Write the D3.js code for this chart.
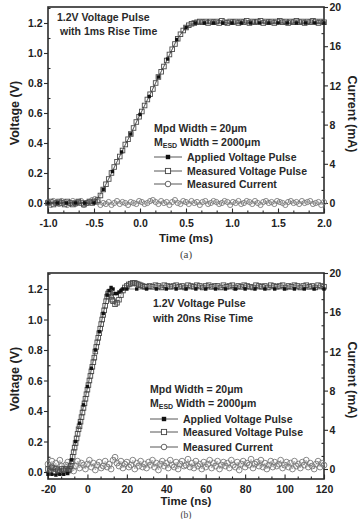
<!DOCTYPE html>
<html><head><meta charset="utf-8">
<script src="https://cdn.jsdelivr.net/npm/d3@7"></script>
<style>html,body{margin:0;padding:0;background:#fff;} svg{display:block;}</style>
</head><body>
<svg id="c" width="363" height="519"></svg>
<script>
// ---------------- Panel (a): 1 ms rise time ----------------
const timeA = [-1.00,-0.97,-0.94,-0.91,-0.88,-0.85,-0.82,-0.79,-0.76,-0.73,
  -0.70,-0.67,-0.64,-0.61,-0.58,-0.55,-0.52,-0.49,-0.46,-0.43,
  -0.40,-0.37,-0.34,-0.31,-0.28,-0.25,-0.22,-0.19,-0.16,-0.13,
  -0.10,-0.07,-0.04,-0.01,0.02,0.05,0.08,0.11,0.14,0.17,
  0.20,0.23,0.26,0.29,0.32,0.35,0.38,0.41,0.44,0.47,
  0.50,0.53,0.56,0.59,0.62,0.65,0.68,0.71,0.74,0.77,
  0.80,0.83,0.86,0.89,0.92,0.95,0.98,1.01,1.04,1.07,
  1.10,1.13,1.16,1.19,1.22,1.25,1.28,1.31,1.34,1.37,
  1.40,1.43,1.46,1.49,1.52,1.55,1.58,1.61,1.64,1.67,
  1.70,1.73,1.76,1.79,1.82,1.85,1.88,1.91,1.94,1.97,
  2.00];
const voltMeasA = [0.00,0.01,-0.01,0.00,0.01,0.00,-0.01,0.01,0.00,-0.01,
  0.00,0.01,0.00,-0.01,0.00,0.01,0.00,0.01,0.02,0.05,
  0.09,0.125,0.16,0.20,0.24,0.275,0.31,0.35,0.39,0.425,
  0.46,0.50,0.54,0.575,0.61,0.65,0.69,0.725,0.76,0.80,
  0.84,0.875,0.91,0.95,0.99,1.025,1.06,1.095,1.125,1.15,
  1.17,1.185,1.195,1.20,1.205,1.21,1.205,1.21,1.20,1.21,
  1.205,1.21,1.20,1.215,1.205,1.20,1.21,1.205,1.21,1.20,
  1.21,1.205,1.215,1.20,1.21,1.205,1.21,1.215,1.20,1.21,
  1.205,1.21,1.20,1.21,1.215,1.205,1.21,1.20,1.21,1.205,
  1.215,1.205,1.21,1.20,1.21,1.205,1.215,1.21,1.20,1.21,
  1.205];
const currA = [0.1,-0.2,0.2,0.0,-0.1,0.2,0.1,-0.2,0.0,0.2,
  -0.1,0.1,0.2,-0.2,0.0,0.1,0.3,0.4,0.1,-0.2,
  0.0,-0.1,0.1,-0.2,0.0,0.2,-0.1,0.1,0.0,-0.2,
  0.1,0.0,-0.1,0.2,0.1,-0.1,0.0,0.2,0.3,0.1,
  -0.1,0.2,0.0,0.1,-0.2,0.1,0.3,0.0,-0.1,0.2,
  0.1,-0.1,0.2,0.0,0.1,-0.2,0.1,0.2,-0.1,0.0,
  0.2,0.1,-0.1,0.0,0.2,0.1,-0.2,0.1,0.0,0.2,
  -0.1,0.0,0.2,0.1,-0.1,0.2,0.0,-0.2,0.1,0.2,
  0.0,0.1,-0.1,0.2,0.1,0.0,-0.2,0.1,0.2,0.0,
  0.1,-0.1,0.2,0.0,0.1,0.2,-0.1,0.0,0.1,-0.2,
  0.1];
const tApplA = [-1.0,-0.9,-0.8,-0.7,-0.6,-0.5,-0.4,-0.3,-0.2,-0.1,0.0,0.1,0.2,0.3,0.4,0.5,0.6,0.7,0.8,0.9,1.0,1.1,1.2,1.3,1.4,1.5,1.6,1.7,1.8,1.9,2.0];
const voltApplA = [0,0,0,0,0,0,0.09,0.21,0.34,0.46,0.59,0.71,0.84,0.96,1.09,1.17,1.2,1.2,1.2,1.2,1.2,1.2,1.2,1.2,1.2,1.2,1.2,1.2,1.2,1.2,1.2];

// ---------------- Panel (b): 20 ns rise time ----------------
const timeB = [-20,-19,-18,-17,-16,-15,-14,-13,-12,-11,-10,
  -9.5,-9,-8.5,-8,-7.5,-7,-6.5,-6,-5.5,-5,
  -4.5,-4,-3.5,-3,-2.5,-2,-1.5,-1,-0.5,0,
  0.5,1,1.5,2,2.5,3,3.5,4,4.5,5,
  5.5,6,6.5,7,7.5,8,8.5,9,9.5,10,
  10.5,11,11.5,12,12.5,13,
  14,15,16,17,18,19,20,21,22,23,24,25,26,27,28,29,30,
  31.5,33,34.5,36,37.5,39,40.5,42,43.5,45,
  46.5,48,49.5,51,52.5,54,55.5,57,58.5,60,
  61.5,63,64.5,66,67.5,69,70.5,72,73.5,75,
  76.5,78,79.5,81,82.5,84,85.5,87,88.5,90,
  91.5,93,94.5,96,97.5,99,100.5,102,103.5,105,
  106.5,108,109.5,111,112.5,114,115.5,117,118.5,120];
const voltMeasB = [0.02,0.01,0.03,0.00,0.02,0.01,0.00,0.02,0.01,0.02,0.01,
  0.01,0.02,0.04,0.07,0.10,0.13,0.16,0.19,0.22,0.25,
  0.28,0.30,0.33,0.36,0.39,0.42,0.45,0.48,0.51,0.54,
  0.57,0.60,0.63,0.66,0.69,0.72,0.75,0.79,0.82,0.85,
  0.88,0.91,0.94,0.97,1.00,1.03,1.06,1.09,1.12,1.15,
  1.17,1.18,1.17,1.15,1.13,1.12,
  1.10,1.11,1.13,1.16,1.19,1.21,1.22,1.23,1.235,1.24,1.24,1.235,1.23,1.225,1.22,1.215,1.215,
  1.22,1.215,1.225,1.22,1.21,1.225,1.22,1.215,1.22,1.225,
  1.215,1.22,1.21,1.225,1.22,1.215,1.225,1.22,1.21,1.22,
  1.225,1.215,1.22,1.22,1.21,1.225,1.215,1.22,1.225,1.21,
  1.22,1.215,1.225,1.22,1.215,1.21,1.225,1.22,1.215,1.22,
  1.21,1.225,1.22,1.215,1.22,1.225,1.21,1.22,1.215,1.225,
  1.22,1.21,1.22,1.225,1.215,1.22,1.21,1.225,1.22,1.215];
const tApplB = [-20,-18,-16,-14,-12,-10,-8,-6,-4,-2,0,2,4,6,8,10,
  11,12,13,14,15,16,17,18,20,25,30,
  35,40,45,50,55,60,65,70,75,80,85,90,95,100,105,110,115,120];
const voltApplB = [-0.015,-0.015,-0.02,-0.015,-0.015,-0.01,0.08,0.20,0.32,0.44,0.56,0.68,0.80,0.92,1.04,1.16,
  1.19,1.21,1.20,1.17,1.17,1.18,1.19,1.20,1.20,1.20,1.20,
  1.20,1.20,1.20,1.20,1.20,1.20,1.20,1.20,1.20,1.20,1.20,1.20,1.20,1.20,1.20,1.20,1.20,1.20];
const tCurrB = [-20,-19,-18,-17,-16,-15,-14,-13,-12,-11,
  -10,-9,-8,-7,-6,-5,-4,-3,-2,-1,
  0,1,2,3,4,5,6,7,8,9,
  10,11,12,13,14,15,16,17,18,19,
  20,21,22,23,24,25,26,27,28,29,
  30,31,32,33,34,35,36,37,38,39,
  40,41,42,43,44,45,46,47,48,49,
  50,51,52,53,54,55,56,57,58,59,
  60,61,62,63,64,65,66,67,68,69,
  70,71,72,73,74,75,76,77,78,79,
  80,81,82,83,84,85,86,87,88,89,
  90,91,92,93,94,95,96,97,98,99,
  100,101,102,103,104,105,106,107,108,109,
  110,111,112,113,114,115,116,117,118,119,
  120];
const currB = [0.5,0.2,0.8,0.1,0.6,-0.1,0.9,0.3,0.0,0.4,
  0.7,0.2,0.5,-0.2,0.3,0.8,0.1,0.6,0.4,0.0,
  0.5,0.9,0.2,0.6,-0.1,0.4,0.7,0.1,0.3,0.8,
  0.2,0.5,0.0,0.9,1.2,0.6,0.3,0.8,0.1,0.5,
  0.7,0.2,0.4,0.9,0.0,0.6,0.3,0.8,0.2,0.5,
  0.1,0.7,0.4,0.9,0.2,0.6,-0.1,0.5,0.8,0.3,
  0.6,0.1,0.9,0.4,0.2,0.7,0.0,0.5,0.8,0.3,
  0.4,1.0,0.2,0.6,0.1,0.8,0.3,0.5,0.0,0.7,
  0.2,0.5,0.9,0.1,0.6,0.3,0.8,0.0,0.4,0.7,
  0.3,0.6,0.1,0.9,0.4,0.2,0.7,-0.1,0.5,0.8,
  0.2,0.6,0.4,1.0,0.1,0.5,0.7,0.3,0.9,0.2,
  0.6,0.0,0.4,0.8,0.2,0.7,0.3,0.5,0.9,0.1,
  0.4,0.7,0.2,0.6,0.0,0.8,0.3,0.5,0.1,0.7,
  0.4,0.9,0.2,0.6,0.3,0.0,0.5,0.8,0.2,0.6,
  0.4];

// ---------------- Ticks & labels ----------------
const xTicksA = [-1.0,-0.5,0.0,0.5,1.0,1.5,2.0];
const xTickLabelsA = ["-1.0","-0.5","0.0","0.5","1.0","1.5","2.0"];
const xTicksB = [-20,0,20,40,60,80,100,120];
const xTickLabelsB = ["-20","0","20","40","60","80","100","120"];
const vTicks = [0,0.2,0.4,0.6,0.8,1.0,1.2];
const vTickLabels = ["0.0","0.2","0.4","0.6","0.8","1.0","1.2"];
const iTicks = [0,4,8,12,16,20];
const iTickLabels = ["0","4","8","12","16","20"];
const legendLabels = ["Applied Voltage Pulse","Measured Voltage Pulse","Measured Current"];

const svg = d3.select('#c');
const FONT = "'Liberation Sans', Arial, Helvetica, sans-serif";

function scaleFromAnchors(v0, p0, v1, p1, pBottom, pTop) {
  const s = d3.scaleLinear().domain([v0, v1]).range([p0, p1]);
  return d3.scaleLinear().domain([s.invert(pBottom), s.invert(pTop)]).range([pBottom, pTop]);
}
function minorsBetween(majors, n) {
  const out = [];
  for (let i = 0; i < majors.length - 1; i++) {
    const a = majors[i], b = majors[i + 1];
    for (let k = 1; k <= n; k++) out.push(a + (b - a) * k / (n + 1));
  }
  return out;
}

function drawPanel(p) {
  const g = svg.append('g');
  const x = d3.scaleLinear().domain(p.xDomain).range([p.left, p.right]);
  const yV = scaleFromAnchors(0, p.v0, 1.2, p.v12, p.bottom, p.top);
  const yI = scaleFromAnchors(0, p.i0, 20, p.i20, p.bottom, p.top);

  g.append('rect').attr('x', p.left).attr('y', p.top)
    .attr('width', p.right - p.left).attr('height', p.bottom - p.top)
    .attr('fill', 'none').attr('stroke', '#2b2b2b').attr('stroke-width', 1.6);

  const bx = g.append('g').attr('transform', `translate(0,${p.bottom})`)
    .call(d3.axisBottom(x).tickValues(p.xTicks).tickFormat((d, i) => p.xLabels[i]).tickSizeInner(-4.5).tickSizeOuter(0));
  g.append('g').attr('transform', `translate(0,${p.bottom})`)
    .call(d3.axisBottom(x).tickValues(minorsBetween(p.xTicks, 2)).tickFormat('').tickSizeInner(-2.5).tickSizeOuter(0));
  const lx = g.append('g').attr('transform', `translate(${p.left},0)`)
    .call(d3.axisLeft(yV).tickValues(vTicks).tickFormat((d, i) => vTickLabels[i]).tickSizeInner(4).tickPadding(1.5).tickSizeOuter(0));
  g.append('g').attr('transform', `translate(${p.left},0)`)
    .call(d3.axisLeft(yV).tickValues([0.1,0.3,0.5,0.7,0.9,1.1,1.3]).tickFormat('').tickSizeInner(-2.5).tickSizeOuter(0));
  const rx = g.append('g').attr('transform', `translate(${p.right},0)`)
    .call(d3.axisRight(yI).tickValues(iTicks).tickFormat((d, i) => iTickLabels[i]).tickSizeInner(4).tickPadding(1.5).tickSizeOuter(0));
  g.append('g').attr('transform', `translate(${p.right},0)`)
    .call(d3.axisRight(yI).tickValues(minorsBetween(iTicks, 2)).tickFormat('').tickSizeInner(-2.5).tickSizeOuter(0));

  g.selectAll('.domain').remove();
  g.selectAll('.tick line').attr('stroke', '#2b2b2b').attr('stroke-width', 1.1);
  g.selectAll('.tick text').attr('font-family', FONT).attr('font-weight', 'bold')
    .attr('font-size', 10.5).attr('fill', '#222');
  bx.selectAll('.tick text').attr('y', p.xLabelBase - p.bottom).attr('dy', 0);
  lx.selectAll('.tick text').attr('dy', '0.36em');
  rx.selectAll('.tick text').attr('dy', '0.36em');

  const lineI = d3.line().x(d => x(d[0])).y(d => yI(d[1]));
  const currPts = p.tCurr.map((t, i) => [t, p.curr[i]]);
  g.append('path').attr('d', lineI(currPts)).attr('fill', 'none').attr('stroke', '#999').attr('stroke-width', 0.6);
  g.append('g').selectAll('circle').data(currPts).join('circle')
    .attr('cx', d => x(d[0])).attr('cy', d => yI(d[1])).attr('r', p.circR)
    .attr('fill', 'none').attr('stroke', '#7a7a7a').attr('stroke-width', 0.9);

  const lineV = d3.line().x(d => x(d[0])).y(d => yV(d[1]));
  const measPts = p.tMeas.map((t, i) => [t, p.vMeas[i]]);
  g.append('path').attr('d', lineV(measPts)).attr('fill', 'none').attr('stroke', '#777').attr('stroke-width', 0.6);
  const s = 4.6;
  g.append('g').selectAll('rect').data(measPts).join('rect')
    .attr('x', d => x(d[0]) - s / 2).attr('y', d => yV(d[1]) - s / 2)
    .attr('width', s).attr('height', s)
    .attr('fill', 'none').attr('stroke', '#4a4a4a').attr('stroke-width', 0.9);

  const applPts = p.tAppl.map((t, i) => [t, p.vAppl[i]]);
  g.append('path').attr('d', lineV(applPts)).attr('fill', 'none').attr('stroke', '#333').attr('stroke-width', 0.6);
  const fs = 3.4;
  g.append('g').selectAll('rect').data(applPts).join('rect')
    .attr('x', d => x(d[0]) - fs / 2).attr('y', d => yV(d[1]) - fs / 2)
    .attr('width', fs).attr('height', fs).attr('fill', '#111');

  const txt = (xx, yy, str, size) => g.append('text').attr('x', xx).attr('y', yy)
    .attr('font-family', FONT).attr('font-weight', 'bold').attr('font-size', size || 10.5)
    .attr('fill', '#2a2a2a').text(str);
  txt(p.note1[0], p.note1[1], "1.2V Voltage Pulse");
  txt(p.note2[0], p.note2[1], p.noteText2);
  txt(p.legX, p.legY1, "Mpd Width = 20\u03bcm");
  const m = g.append('text').attr('x', p.legX).attr('y', p.legY2)
    .attr('font-family', FONT).attr('font-weight', 'bold').attr('font-size', 10.5).attr('fill', '#2a2a2a');
  m.append('tspan').text('M');
  m.append('tspan').attr('font-size', 7).attr('dy', 1.5).text('ESD');
  m.append('tspan').attr('dy', -1.5).text(' Width = 2000\u03bcm');

  p.legRows.forEach((yy, i) => {
    g.append('line').attr('x1', p.legX).attr('x2', p.legX + 28).attr('y1', yy).attr('y2', yy)
      .attr('stroke', '#444').attr('stroke-width', 0.9);
    const cx = p.legX + 14;
    if (i === 0) {
      g.append('rect').attr('x', cx - 2.2).attr('y', yy - 2.2).attr('width', 4.4).attr('height', 4.4).attr('fill', '#111');
    } else if (i === 1) {
      g.append('rect').attr('x', cx - 2.6).attr('y', yy - 2.6).attr('width', 5.2).attr('height', 5.2)
        .attr('fill', '#fff').attr('stroke', '#444').attr('stroke-width', 0.9);
    } else {
      g.append('circle').attr('cx', cx).attr('cy', yy).attr('r', 2.8)
        .attr('fill', '#fff').attr('stroke', '#555').attr('stroke-width', 0.9);
    }
    txt(p.legX + 33, yy + 3.8, legendLabels[i]);
  });

  g.append('text').attr('transform', `translate(19,${p.vTitleY}) rotate(-90)`)
    .attr('text-anchor', 'middle').attr('font-family', FONT).attr('font-weight', 'bold')
    .attr('font-size', 12.5).attr('fill', '#222').text('Voltage (V)');
  g.append('text').attr('transform', `translate(348,${p.iTitleY}) rotate(90)`)
    .attr('text-anchor', 'middle').attr('font-family', FONT).attr('font-weight', 'bold')
    .attr('font-size', 12.5).attr('fill', '#222').text('Current (mA)');
  g.append('text').attr('x', 186).attr('y', p.xTitleY)
    .attr('text-anchor', 'middle').attr('font-family', FONT).attr('font-weight', 'bold')
    .attr('font-size', 11.5).attr('fill', '#222').text(p.xTitle);
  g.append('text').attr('x', 186).attr('y', p.capY)
    .attr('text-anchor', 'middle').attr('font-family', "'Liberation Serif', 'DejaVu Serif', serif")
    .attr('font-size', p.capSize).attr('fill', '#444').text(p.caption);
}

drawPanel({
  left: 48, right: 324, top: 7, bottom: 213,
  xDomain: [-1, 2], xTicks: xTicksA, xLabels: xTickLabelsA, xLabelBase: 227,
  v0: 203, v12: 23, i0: 203, i20: 7,
  tMeas: timeA, vMeas: voltMeasA, tAppl: tApplA, vAppl: voltApplA, tCurr: timeA, curr: currA,
  circR: 2.6,
  note1: [57, 20.5], note2: [60, 35], noteText2: "with 1ms Rise Time",
  legX: 154, legY1: 132, legY2: 146, legRows: [157, 171, 184],
  vTitleY: 113, iTitleY: 114, xTitleY: 242, xTitle: 'Time (ms)', capY: 258, caption: '(a)', capSize: 11
});
drawPanel({
  left: 48, right: 324, top: 273, bottom: 479,
  xDomain: [-20, 120], xTicks: xTicksB, xLabels: xTickLabelsB, xLabelBase: 493,
  v0: 472, v12: 289, i0: 469, i20: 273,
  tMeas: timeB, vMeas: voltMeasB, tAppl: tApplB, vAppl: voltApplB, tCurr: tCurrB, curr: currB,
  circR: 2.9,
  note1: [153, 307], note2: [153, 322], noteText2: "with 20ns Rise Time",
  legX: 150, legY1: 393, legY2: 407, legRows: [419, 432, 447],
  vTitleY: 379, iTitleY: 380, xTitleY: 505, xTitle: 'Time (ns)', capY: 517.5, capSize: 9.5, caption: '(b)'
});
</script>
</body></html>
